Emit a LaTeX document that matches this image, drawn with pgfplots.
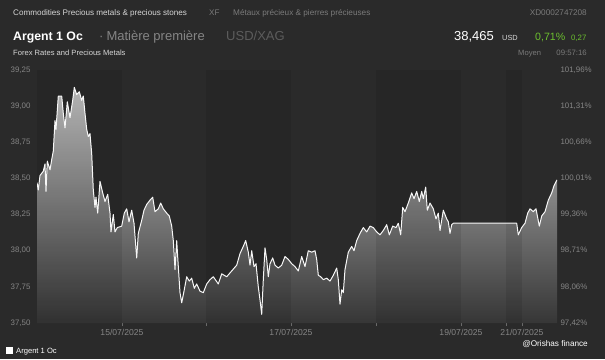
\documentclass[border=0pt]{standalone}
\usepackage{fontspec}
\setmainfont{Liberation Sans}
\usepackage{pgfplots}
\usepackage{pgfplotstable}
\pgfplotsset{compat=1.18}
\definecolor{bg}{HTML}{2A2A2A}
\definecolor{lbl}{HTML}{858585}
\definecolor{dimtxt}{HTML}{7A7A7A}
\definecolor{usdx}{HTML}{5C5C5C}
\definecolor{hdr}{HTML}{D6D6D6}
\definecolor{grn}{HTML}{6CC02E}
\definecolor{filltop}{HTML}{C6C6C6}
\definecolor{fillbot}{HTML}{363636}
\newcommand{\fs}[1]{\fontsize{#1bp}{#1bp}\selectfont}

\pgfplotstableread{
x y
37 38.47
38.3 38.42
40 38.52
43.3 38.55
45 38.60
46 38.41
47.3 38.62
50 38.56
51.7 38.63
53.3 38.69
55 38.90
56 38.84
58.3 39.07
61.7 39.07
63.3 38.95
65 38.85
67.3 39.03
70 38.92
72.7 39.04
74.3 39.13
76.7 39.08
79.3 39.10
81.7 39.04
83.3 39.07
85 38.95
86.7 38.84
88.3 38.79
90 38.81
91.7 38.67
93.3 38.42
95 38.30
96 38.37
97.7 38.26
100 38.48
102.7 38.40
105 38.34
107.7 38.39
110 38.26
111 38.13
113.3 38.25
115 38.13
117.3 38.16
121.7 38.17
124.3 38.26
126.7 38.29
129 38.20
131.7 38.28
134 38.19
136.7 37.95
138.3 38.12
141.7 38.21
144 38.28
146.7 38.32
150 38.35
152.7 38.37
155 38.27
158.3 38.29
160.7 38.33
163.3 38.29
166.7 38.26
169.3 38.24
171.7 38.17
173.3 38.07
175 37.87
176.7 38.07
178.3 37.89
180 37.71
181.7 37.64
184 37.72
186.7 37.82
189.3 37.79
191.7 37.81
194.3 37.74
196.7 37.77
200 37.72
203.3 37.71
206.7 37.77
210 37.80
213.3 37.82
218.3 37.77
221.7 37.84
226.7 37.82
231.7 37.86
236.7 37.90
240 37.98
243.3 38.03
245.7 38.07
248.3 37.99
250 37.90
251.7 38.00
254 37.89
256 37.91
258.3 37.75
260 37.66
261.7 37.56
263.3 37.80
265 38.02
266.7 37.94
268.3 37.82
270 37.91
272.7 37.95
275 37.90
278.3 37.88
281.7 37.90
285 37.96
288.3 37.94
291.7 37.91
295 37.89
298.3 37.86
301.7 37.96
305 37.89
308.3 38.00
311.7 37.99
315 38.00
316.7 37.94
318.3 37.83
320.7 37.82
323.3 37.80
326.7 37.81
330 37.79
333.3 37.83
336.7 37.88
338.3 37.80
340 37.63
341.7 37.73
343.3 37.71
345 37.87
348.3 37.99
351.7 38.03
354 38.00
356.7 38.07
360 38.12
363.3 38.16
366.7 38.13
370 38.17
373.3 38.16
376.7 38.13
380 38.11
383.3 38.14
386.7 38.18
389.3 38.11
392.7 38.17
396 38.16
398.3 38.19
400.7 38.11
402.7 38.30
405 38.27
408.3 38.33
411.7 38.40
414 38.36
416.7 38.41
419.3 38.34
421.7 38.41
423.3 38.36
425.7 38.44
427.3 38.28
430 38.33
433.3 38.29
436 38.22
438.3 38.26
440 38.14
443.3 38.28
446.7 38.22
448.3 38.20
450 38.12
451.7 38.18
453.3 38.19
516.7 38.19
518.3 38.11
521.7 38.16
525 38.19
527.7 38.26
530 38.29
533.3 38.27
536 38.29
539.3 38.17
541.7 38.24
545 38.27
548.3 38.35
551.7 38.40
554 38.45
557 38.49
}\silver

\begin{document}
\begin{tikzpicture}[x=1bp,y=1bp]
\useasboundingbox (0,0) rectangle (605,359);
\fill[bg] (0,0) rectangle (605,359);

% header
\node[anchor=base west,inner sep=0,text=hdr,font=\fs{8.1}] at (13,344) {Commodities Precious metals \& precious stones};
\node[anchor=base west,inner sep=0,text=dimtxt,font=\fs{8.1}] at (209,344) {XF};
\node[anchor=base west,inner sep=0,text=dimtxt,font=\fs{8.2}] at (233,344) {Métaux précieux \& pierres précieuses};
\node[anchor=base east,inner sep=0,text=dimtxt,font=\fs{8.2}] at (587,344) {XD0002747208};
\node[anchor=base west,inner sep=0,text=white,font=\fs{12.3}\bfseries] at (13,319) {Argent 1 Oc};
\node[anchor=base west,inner sep=0,text=lbl,font=\fs{13}] at (99,319) {·\hspace{3bp}Matière première};
\node[anchor=base west,inner sep=0,text=usdx,font=\fs{13}] at (226,319) {USD/XAG};
\node[anchor=base west,inner sep=0,text=hdr,font=\fs{7.6}] at (13,304) {Forex Rates and Precious Metals};
\node[anchor=base east,inner sep=0,text=white,font=\fs{13}] at (494,319) {38,465};
\node[anchor=base west,inner sep=0,text=hdr,font=\fs{7.4}] at (502,319) {USD};
\node[anchor=base west,inner sep=0,text=grn,font=\fs{10.6}] at (535,319) {0,71\%};
\node[anchor=base west,inner sep=0,text=grn,font=\fs{7.8}] at (571,319) {0,27};
\node[anchor=base west,inner sep=0,text=dimtxt,font=\fs{7.6}] at (518,304) {Moyen};
\node[anchor=base east,inner sep=0,text=dimtxt,font=\fs{7.8}] at (587,304) {09:57:16};

\begin{axis}[
  at={(37bp,36bp)}, anchor=south west, scale only axis,
  width=520bp, height=253bp,
  xmin=37, xmax=557, ymin=37.5, ymax=39.25,
  axis line style={draw=none},
  xtick={122,206,291,376,461,506,522},
  xticklabels={15/07/2025,,17/07/2025,,19/07/2025,,21/07/2025},
  xtick pos=bottom, tick align=outside,
  major tick length=3bp,
  xtick style={color=lbl!70!bg, line width=0.6bp},
  ytick={37.5,37.75,...,39.3},
  ytick pos=left, ytick style={draw=none},
  yticklabel style={/pgf/number format/fixed, /pgf/number format/fixed zerofill, /pgf/number format/precision=2, /pgf/number format/use comma, /pgf/number format/assume math mode=true},
  ticklabel style={font=\fs{7.9}, text=lbl},
  xticklabel style={font=\fs{8.6}},
  clip=true,
]
\addplot[draw=none, top color=filltop, bottom color=fillbot] table {\silver} -- (557,37.5) -- (37,37.5) -- cycle;
\fill[black,opacity=0.09] (37,37.5) rectangle (122,39.25);
\fill[black,opacity=0.09] (206,37.5) rectangle (291,39.25);
\fill[black,opacity=0.09] (376,37.5) rectangle (461,39.25);
\fill[black,opacity=0.09] (506,37.5) rectangle (522,39.25);
\addplot[white!94!gray, line width=1bp, line join=round] table {\silver};
\end{axis}

\begin{axis}[
  at={(37bp,36bp)}, anchor=south west, scale only axis,
  width=520bp, height=253bp,
  xmin=37, xmax=557, ymin=37.5, ymax=39.25,
  axis line style={draw=none},
  xtick=\empty,
  ytick={37.5,37.75,...,39.3},
  yticklabels={{97,42\%},{98,06\%},{98,71\%},{99,36\%},{100,01\%},{100,66\%},{101,31\%},{101,96\%}},
  ytick pos=right, ytick style={draw=none},
  yticklabel style={font=\fs{7.9}, text=lbl},
]
\end{axis}

% footer
\fill[white] (6,5.5) rectangle (13,12.5);
\node[anchor=base west,inner sep=0,text=white,font=\fs{7.6}] at (16,6) {Argent 1 Oc};
\node[anchor=base east,inner sep=0,text=white,font=\fs{8.2}] at (588,13) {@Orishas finance};
\end{tikzpicture}
\end{document}
